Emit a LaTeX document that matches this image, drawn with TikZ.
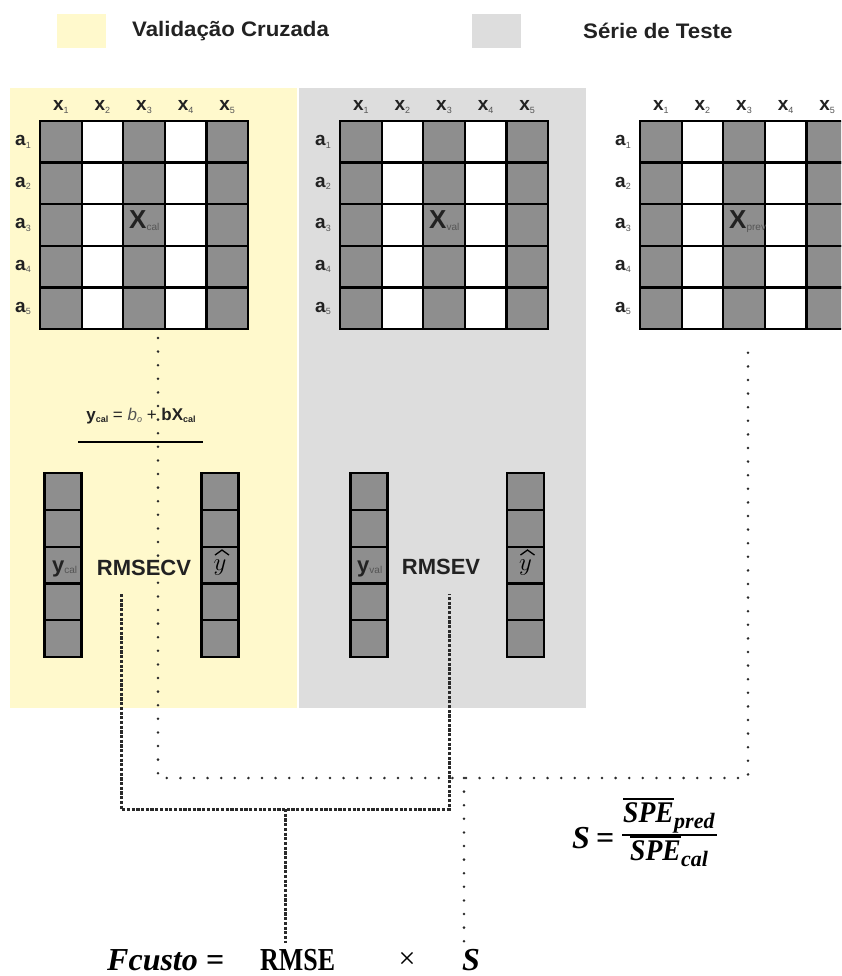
\documentclass[tikz,border=0pt]{standalone}
\usepackage{fontspec}
\usepackage{amsmath}
\usepackage{graphicx}
\setmainfont{Liberation Sans}
\newfontfamily\cambr{Liberation Serif}
\definecolor{panelY}{HTML}{FFF9CC}
\definecolor{panelG}{HTML}{DDDDDD}
\definecolor{cellG}{HTML}{8E8E8E}
\definecolor{ink}{HTML}{222222}
\definecolor{subg}{HTML}{555555}
\definecolor{lineC}{HTML}{2A2A2A}
\newcommand{\fsz}[1]{\fontsize{#1}{#1}\selectfont}
\newcommand{\sbs}[2]{{\fsz{#1}\color{subg}\raisebox{-2.5pt}{#2}}}
\tikzset{
  cellbox/.style={draw=black, line width=2.2pt, minimum width=41.6pt, minimum height=41.6pt, inner sep=0pt, outer sep=0pt},
  vecbox/.style={draw=black, line width=2.2pt, fill=cellG, minimum width=37pt, minimum height=36.8pt, inner sep=0pt, outer sep=0pt},
  lbl/.style={inner sep=0pt, text=ink},
  hatline/.style={draw=black, line width=1.3pt, line join=miter},
  dashline/.style={draw=lineC, line width=3pt, dash pattern=on 3.2pt off 1.5pt},
  dotline/.style={draw=lineC, line width=2.8pt, line cap=round, dash pattern=on 0pt off 13.6pt},
  bigmath/.style={inner sep=0pt, text=black, font=\cambr\bfseries\itshape}
}
\begin{document}
\begin{tikzpicture}[x=1pt, y=-1pt]
\clip (0,0) rectangle (841,976);
\fill[white] (0,0) rectangle (841,976);

% legend
\fill[panelY] (57,14) rectangle (106,48);
\node[lbl, anchor=west] (legY) at (132,31) {\fsz{21}\bfseries\scalebox{1.06}[1]{Validação Cruzada}};
\fill[panelG] (472,14) rectangle (521,48);
\node[lbl, anchor=west] (legG) at (583,31) {\fsz{21}\bfseries\scalebox{1.06}[1]{Série de Teste}};

% panels
\fill[panelY] (10,88) rectangle (297,708);
\fill[panelG] (299,88) rectangle (586,708);

% matrices
\foreach \mm/\ox in {1/40,2/340,3/640}{
  \foreach \cc in {1,...,5}{
    \pgfmathsetmacro\cx{\ox+(\cc-0.5)*41.6}
    \node[lbl] (m\mm-x\cc) at (\cx,107) {\fsz{19}\bfseries x\sbs{9}{\mdseries\cc}};
    \foreach \rr in {1,...,5}{
      \pgfmathsetmacro\cy{121+(\rr-0.5)*41.6}
      \ifodd\cc \def\fc{cellG}\else\def\fc{white}\fi
      \node[cellbox, fill=\fc] (m\mm-\cc-\rr) at (\cx,\cy) {};
    }
  }
  \foreach \rr in {1,...,5}{
    \pgfmathsetmacro\cy{121+(\rr-0.5)*41.6}
    \pgfmathsetmacro\lx{\ox-25}
    \node[lbl, anchor=west] (m\mm-a\rr) at (\lx,\cy) {\fsz{19}\bfseries a\sbs{9}{\mdseries\rr}};
  }
}
\node[lbl, anchor=base west] (xcal) at (129,229) {{\fsz{26}\bfseries X}{\fsz{10}\color{subg}\raisebox{-2pt}{cal}}};
\node[lbl, anchor=base west] (xval) at (429,229) {{\fsz{26}\bfseries X}{\fsz{10}\color{subg}\raisebox{-2pt}{val}}};
\node[lbl, anchor=base west] (xprev) at (729,229) {{\fsz{26}\bfseries X}{\fsz{10}\color{subg}\raisebox{-2pt}{prev}}};

% regression formula
\node[lbl, anchor=base] (reg) at (141,420) {\fsz{17}\textbf{y}{\fsz{9}\bfseries\raisebox{-2pt}{cal}} = {\color{subg}\textit{b}{\fsz{9}\itshape\raisebox{-2pt}{o}}} + \textbf{bX}{\fsz{9}\bfseries\raisebox{-2pt}{cal}}};
\coordinate (rl1) at (78,442);
\coordinate (rl2) at (203,442);
\draw[line width=1.6pt, black] (rl1) -- (rl2);

% vectors
\foreach \vv/\vx in {a/63,b/220,c/369,d/525.5}{
  \foreach \k in {1,...,5}{
    \pgfmathsetmacro\vy{473+(\k-0.5)*36.8}
    \node[vecbox] (v\vv-\k) at (\vx,\vy) {};
  }
}
\node[lbl, anchor=base west] (ycal) at (52,572) {{\fsz{22}\bfseries y}{\fsz{10}\color{subg}\raisebox{-1pt}{cal}}};
\node[lbl, anchor=base west] (yval) at (357,572) {{\fsz{22}\bfseries y}{\fsz{10}\color{subg}\raisebox{-1pt}{val}}};
\node[lbl, text=black] (yhat1) at (220,568) {\fsz{25}$y$};
\node[lbl, text=black] (yhat2) at (525.5,568) {\fsz{25}$y$};
\draw[hatline] ([xshift=-5pt,yshift=5pt]yhat1.north) -- ([xshift=2pt,yshift=10pt]yhat1.north) -- ([xshift=9pt,yshift=5pt]yhat1.north);
\draw[hatline] ([xshift=-5pt,yshift=5pt]yhat2.north) -- ([xshift=2pt,yshift=10pt]yhat2.north) -- ([xshift=9pt,yshift=5pt]yhat2.north);
\node[lbl] (rmsecv) at (144,568) {\fsz{22}\bfseries RMSECV};
\node[lbl] (rmsev) at (441,567) {\fsz{22}\bfseries RMSEV};

% bottom formula
\node[bigmath, anchor=base west] (fcusto) at (107,970) {\fsz{32}Fcusto =};
\node[bigmath, anchor=base west] (rmse) at (260,970) {\fsz{32}\upshape\scalebox{0.81}[1]{RMSE}};
\node[inner sep=0pt, anchor=base] (times) at (407,968) {\fsz{30}\cambr ×};
\node[bigmath, anchor=base west] (sS) at (462,970) {\fsz{32}S};

% S fraction
\node[bigmath, anchor=base west] (fs) at (572,848) {\fsz{32}S};
\node[bigmath, anchor=base west] (feq) at (596,848) {\fsz{32}\upshape =};
\coordinate (fb1) at (622,835);
\coordinate (fb2) at (717,835);
\draw[line width=1.8pt] (fb1) -- (fb2);
\node[bigmath, anchor=base west] (numS) at (623,822) {\fsz{30}\scalebox{0.92}[1]{SPE}};
\node[bigmath, anchor=base west] (numP) at (674,828) {\fsz{22}pred};
\draw[line width=1.3pt] ([yshift=3pt]numS.north west) -- ([yshift=3pt]numS.north east);
\node[bigmath, anchor=base west] (denS) at (630,860) {\fsz{30}\scalebox{0.92}[1]{SPE}};
\node[bigmath, anchor=base west] (denC) at (681,866) {\fsz{22}cal};
\draw[line width=1.3pt] ([yshift=3pt]denS.north west) -- ([yshift=3pt]denS.north east);

% dashed connectors (RMSE)
\coordinate (dA) at (121,594);
\coordinate (dB) at (121,809);
\coordinate (dC) at (449,809);
\coordinate (dD) at (449,594);
\coordinate (dM) at (285,809);
\coordinate (dE) at (285,943);
\draw[dashline] (dA) -- (dB) -- (dC) -- (dD);
\draw[dashline] (dM) -- (dE);

% dotted connectors (S)
\coordinate (pA) at (158,338);
\coordinate (pB) at (158,778);
\coordinate (pC) at (748,778);
\coordinate (pD) at (748,347);
\coordinate (pM) at (464,778);
\coordinate (pE) at (464,943);
\draw[dotline] (pA) -- (pB) -- (pC) -- (pD);
\draw[dotline] (pM) -- (pE);
\end{tikzpicture}
\end{document}
